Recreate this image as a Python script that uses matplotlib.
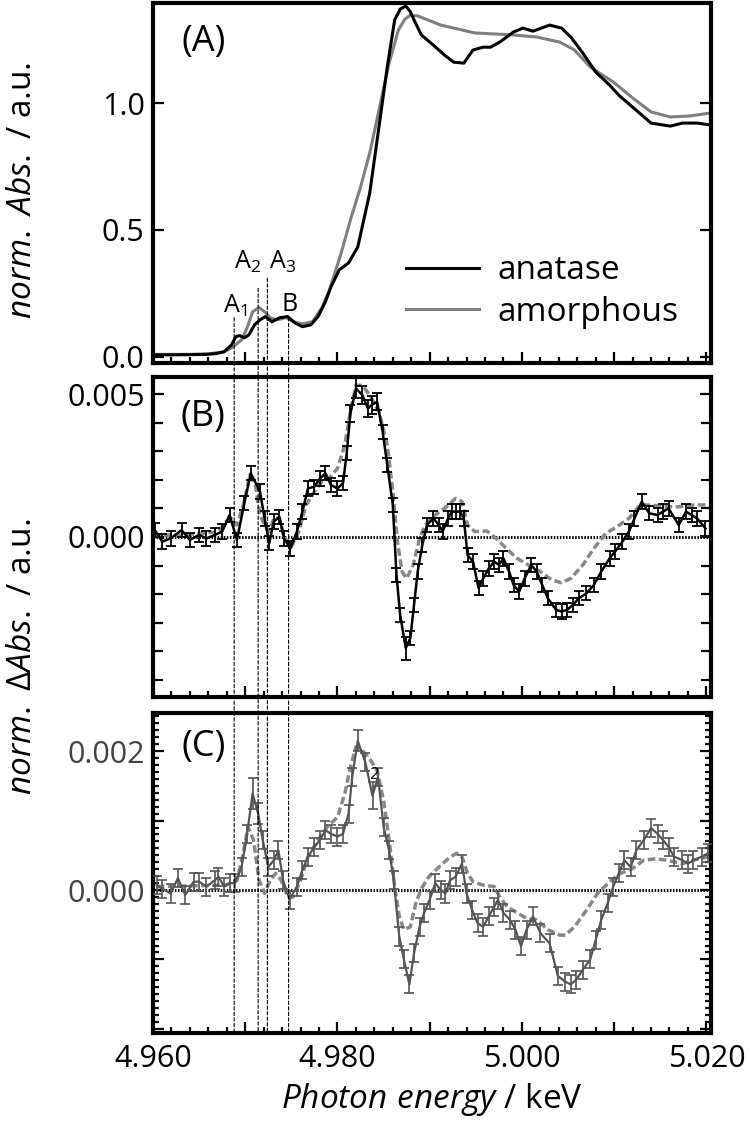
import matplotlib
matplotlib.use("Agg")
import matplotlib.pyplot as plt
from matplotlib.ticker import MultipleLocator, FixedLocator, FuncFormatter
from matplotlib.patches import ConnectionPatch
import numpy as np

plt.rcParams['font.family'] = ['Open Sans', 'DejaVu Sans']
plt.rcParams['mathtext.fontset'] = 'custom'
plt.rcParams['mathtext.rm'] = 'Open Sans'
plt.rcParams['mathtext.it'] = 'Open Sans:italic'

# ---- panel A: normalized XANES ----
e_anatase = [4.9600, 4.9620, 4.9640, 4.9658, 4.9668, 4.9677, 4.9685, 4.9690, 4.9694,
             4.9699, 4.9704, 4.9710, 4.9716, 4.9722, 4.9729, 4.9737, 4.9746, 4.9754,
             4.9762, 4.9771, 4.9779, 4.9787, 4.9793, 4.9802, 4.9812, 4.9822, 4.9835,
             4.9845, 4.9854, 4.9862, 4.9868, 4.9874, 4.9879, 4.9883, 4.9891, 4.9904,
             4.9916, 4.9926, 4.9937, 4.9947, 4.9958, 4.9966, 4.9976, 4.9991, 5.0001,
             5.0012, 5.0030, 5.0043, 5.0053, 5.0066, 5.0080, 5.0095, 5.0105, 5.0120,
             5.0140, 5.0161, 5.0174, 5.0190, 5.0205]
abs_anatase = [0.008, 0.008, 0.009, 0.010, 0.013, 0.020, 0.047, 0.080, 0.084,
               0.075, 0.087, 0.126, 0.146, 0.159, 0.138, 0.154, 0.159, 0.134,
               0.119, 0.126, 0.159, 0.218, 0.276, 0.343, 0.370, 0.433, 0.646,
               0.906, 1.142, 1.327, 1.370, 1.382, 1.360, 1.327, 1.268, 1.228,
               1.189, 1.161, 1.157, 1.209, 1.220, 1.220, 1.240, 1.280, 1.295,
               1.283, 1.307, 1.295, 1.260, 1.197, 1.122, 1.071, 1.031, 0.984,
               0.921, 0.909, 0.921, 0.921, 0.913]

e_amorph = [4.9600, 4.9640, 4.9660, 4.9677, 4.9685, 4.9696, 4.9702, 4.9708, 4.9715,
            4.9721, 4.9727, 4.9735, 4.9744, 4.9752, 4.9762, 4.9773, 4.9783, 4.9791,
            4.9804, 4.9814, 4.9825, 4.9835, 4.9845, 4.9856, 4.9866, 4.9873, 4.9879,
            4.9887, 4.9912, 4.9949, 4.9991, 5.0016, 5.0041, 5.0057, 5.0074, 5.0099,
            5.0120, 5.0140, 5.0161, 5.0182, 5.0205]
abs_amorph = [0.010, 0.010, 0.012, 0.020, 0.035, 0.067, 0.114, 0.178, 0.194,
              0.178, 0.154, 0.146, 0.155, 0.139, 0.130, 0.139, 0.193, 0.260,
              0.409, 0.539, 0.669, 0.803, 0.972, 1.157, 1.287, 1.330, 1.346,
              1.343, 1.307, 1.276, 1.268, 1.260, 1.240, 1.209, 1.142, 1.083,
              1.020, 0.965, 0.945, 0.949, 0.961]

# ---- panel B: difference spectrum (x 1e-3) ----
e_b = [4.9602, 4.9610, 4.9619, 4.9631, 4.9640, 4.9650, 4.9658, 4.9667, 4.9675, 4.9683,
       4.9691, 4.9699, 4.9706, 4.9716, 4.9721, 4.9726, 4.9731, 4.9737, 4.9742, 4.9749,
       4.9756, 4.9762, 4.9768, 4.9775, 4.9781, 4.9787, 4.9793, 4.9800, 4.9806, 4.9810,
       4.9814, 4.9820, 4.9827, 4.9833, 4.9837, 4.9843, 4.9849, 4.9854, 4.9860, 4.9864,
       4.9868, 4.9874, 4.9879, 4.9883, 4.9887, 4.9892, 4.9897, 4.9904, 4.9910, 4.9914,
       4.9920, 4.9924, 4.9928, 4.9933, 4.9937, 4.9941, 4.9947, 4.9953, 4.9958, 4.9964,
       4.9970, 4.9975, 4.9980, 4.9986, 4.9991, 4.9997, 5.0003, 5.0010, 5.0016, 5.0022,
       5.0028, 5.0037, 5.0043, 5.0049, 5.0055, 5.0062, 5.0070, 5.0078, 5.0086, 5.0095,
       5.0101, 5.0109, 5.0116, 5.0122, 5.0130, 5.0138, 5.0147, 5.0153, 5.0159, 5.0170,
       5.0178, 5.0184, 5.0190, 5.0199]
d_b = [0.24, -0.16, -0.05, 0.24, -0.10, 0.07, -0.05, 0.07, 0.19, 0.77,
       -0.10, 1.18, 2.23, 1.59, 0.65, -0.22, 0.54, 0.71, -0.05, -0.40,
       0.19, 0.89, 1.70, 1.76, 2.05, 2.23, 1.82, 1.70, 1.88, 2.93,
       4.32, 5.20, 4.97, 4.50, 4.62, 4.73, 3.68, 2.52, 1.12, -1.33,
       -2.73, -3.89, -3.54, -2.38, -1.21, -0.28, 0.42, 0.65, 0.42, 0.19,
       0.65, 0.89, 0.89, 0.89, 0.65, -0.63, -0.86, -1.79, -1.45, -1.10,
       -0.86, -0.98, -0.75, -1.21, -1.68, -1.91, -1.45, -0.98, -1.21, -1.68,
       -2.14, -2.55, -2.61, -2.55, -2.38, -2.14, -1.97, -1.68, -1.21, -0.75,
       -0.51, -0.16, 0.19, 0.65, 1.24, 0.83, 0.77, 0.89, 1.00, 0.42,
       0.89, 0.77, 0.65, 0.30]
err_b = [0.25] * 30 + [0.3, 0.35, 0.3, 0.3, 0.3, 0.3] + [0.25] * 5 + [0.4] + [0.25] * 52

e_b_fit = [4.9600, 4.9637, 4.9671, 4.9679, 4.9685, 4.9691, 4.9698, 4.9705, 4.9711, 4.9716,
           4.9721, 4.9726, 4.9731, 4.9737, 4.9743, 4.9750, 4.9758, 4.9766, 4.9775, 4.9783,
           4.9791, 4.9800, 4.9808, 4.9814, 4.9820, 4.9827, 4.9835, 4.9845, 4.9854, 4.9860,
           4.9865, 4.9870, 4.9875, 4.9882, 4.9889, 4.9895, 4.9906, 4.9916, 4.9928, 4.9935,
           4.9941, 4.9949, 4.9962, 4.9972, 4.9983, 4.9995, 5.0007, 5.0020, 5.0032, 5.0043,
           5.0053, 5.0066, 5.0078, 5.0091, 5.0103, 5.0116, 5.0128, 5.0141, 5.0153, 5.0170,
           5.0186, 5.0201]
d_b_fit = [0.07, 0.07, 0.19, 0.54, 0.65, 0.42, 1.12, 2.17, 1.82, 0.77,
           0.42, 0.19, 0.65, 0.65, -0.05, -0.34, 0.19, 1.12, 1.59, 1.93,
           2.05, 2.40, 3.22, 4.38, 5.31, 5.31, 4.97, 4.38, 3.22, 1.59,
           -0.16, -1.21, -1.45, -0.98, -0.05, 0.42, 0.77, 1.00, 1.35, 1.24,
           0.42, 0.19, 0.21, -0.05, -0.40, -0.75, -0.98, -1.21, -1.50, -1.60,
           -1.45, -0.98, -0.40, 0.13, 0.36, 0.65, 1.12, 1.12, 1.06, 1.06,
           1.12, 1.12]

# ---- panel C: difference spectrum (x 1e-3) ----
e_c = [4.9604, 4.9610, 4.9619, 4.9627, 4.9635, 4.9644, 4.9650, 4.9658, 4.9667, 4.9671,
       4.9677, 4.9683, 4.9689, 4.9696, 4.9702, 4.9708, 4.9714, 4.9719, 4.9725, 4.9731,
       4.9736, 4.9741, 4.9748, 4.9756, 4.9762, 4.9768, 4.9775, 4.9781, 4.9787, 4.9793,
       4.9800, 4.9806, 4.9812, 4.9816, 4.9822, 4.9830, 4.9838, 4.9844, 4.9850, 4.9856,
       4.9861, 4.9867, 4.9872, 4.9878, 4.9883, 4.9889, 4.9894, 4.9900, 4.9906, 4.9912,
       4.9917, 4.9922, 4.9928, 4.9935, 4.9940, 4.9946, 4.9952, 4.9958, 4.9964, 4.9970,
       4.9974, 4.9980, 4.9987, 4.9993, 4.9999, 5.0005, 5.0012, 5.0020, 5.0030, 5.0039,
       5.0047, 5.0053, 5.0059, 5.0066, 5.0074, 5.0080, 5.0086, 5.0093, 5.0099, 5.0105,
       5.0111, 5.0118, 5.0124, 5.0132, 5.0140, 5.0147, 5.0153, 5.0159, 5.0165, 5.0174,
       5.0180, 5.0186, 5.0195, 5.0202]
d_c = [0.07, 0.02, -0.05, 0.17, -0.07, 0.12, 0.12, 0.05, 0.14, 0.19,
       0.05, 0.10, 0.10, 0.33, 0.81, 1.39, 1.10, 0.72, 0.33, 0.43,
       0.57, 0.14, -0.14, 0.05, 0.29, 0.48, 0.62, 0.72, 0.86, 0.81,
       0.77, 0.81, 1.10, 1.63, 2.15, 1.85, 1.36, 1.63, 0.91, 0.57,
       0.14, -0.67, -1.00, -1.36, -0.91, -0.53, -0.33, -0.14, 0.10, 0.00,
       -0.05, 0.14, 0.19, 0.38, -0.05, -0.29, -0.48, -0.53, -0.38, -0.24,
       -0.14, -0.33, -0.43, -0.57, -0.81, -0.57, -0.38, -0.62, -0.77, -1.24,
       -1.32, -1.36, -1.29, -1.15, -1.00, -0.72, -0.43, -0.19, 0.05, 0.24,
       0.43, 0.33, 0.57, 0.72, 0.89, 0.81, 0.72, 0.62, 0.48, 0.43,
       0.38, 0.43, 0.48, 0.53]
err_c = [0.13] * 15 + [0.22, 0.15] + [0.13] * 17 + [0.15, 0.13, 0.2] + [0.13] * 57

e_c_fit = [4.9604, 4.9679, 4.9691, 4.9698, 4.9703, 4.9709, 4.9715, 4.9721, 4.9727, 4.9733,
           4.9739, 4.9746, 4.9752, 4.9760, 4.9768, 4.9779, 4.9789, 4.9800, 4.9808, 4.9814,
           4.9820, 4.9827, 4.9835, 4.9843, 4.9850, 4.9856, 4.9862, 4.9867, 4.9872, 4.9879,
           4.9885, 4.9891, 4.9899, 4.9910, 4.9920, 4.9929, 4.9935, 4.9941, 4.9947, 4.9958,
           4.9970, 4.9976, 4.9984, 4.9995, 5.0005, 5.0016, 5.0028, 5.0041, 5.0047, 5.0057,
           5.0070, 5.0082, 5.0095, 5.0107, 5.0120, 5.0132, 5.0145, 5.0157, 5.0174, 5.0186,
           5.0202]
d_c_fit = [0.05, 0.07, 0.14, 0.53, 0.91, 0.72, 0.14, -0.05, 0.14, 0.24,
           0.14, -0.10, -0.10, 0.14, 0.48, 0.72, 0.91, 1.05, 1.39, 1.77,
           2.06, 2.01, 1.89, 1.72, 1.29, 0.72, 0.05, -0.38, -0.57, -0.53,
           -0.19, 0.02, 0.19, 0.33, 0.45, 0.53, 0.48, 0.24, 0.12, 0.07,
           0.05, -0.10, -0.24, -0.33, -0.41, -0.43, -0.57, -0.65, -0.65, -0.53,
           -0.29, -0.05, 0.12, 0.24, 0.31, 0.43, 0.45, 0.43, 0.38, 0.43,
           0.48]

# pre-edge features
feat_names = ['A$_1$', 'A$_2$', 'A$_3$', 'B']
feat_energy = [4.9688, 4.9714, 4.9724, 4.9747]
feat_text_x = [4.9689, 4.97025, 4.9740, 4.97486]
feat_text_y = [0.20, 0.374, 0.374, 0.205]
feat_line_top = [0.154, 0.27, 0.31, 0.154]

BLACK = '#000000'
GRAY = '#7f7f7f'
DGRAY = '#555555'

fig = plt.figure(figsize=(7.5, 11.33), dpi=100)
L, W = 153 / 750, 558 / 750
H = 1133.0
axA = fig.add_axes([L, 1 - 363 / H, W, 360 / H])
axB = fig.add_axes([L, 1 - 697 / H, W, 320 / H])
axC = fig.add_axes([L, 1 - 1033 / H, W, 320 / H])

axA.plot(e_anatase, abs_anatase, color=BLACK, lw=2.2, label='anatase', zorder=3)
axA.plot(e_amorph, abs_amorph, color=GRAY, lw=2.2, label='amorphous', zorder=2)
axA.set_ylim(-0.024, 1.394)
axA.yaxis.set_major_locator(FixedLocator([0.0, 0.5, 1.0]))
axA.yaxis.set_major_formatter(FuncFormatter(lambda v, p: f'{v:.1f}'))
axA.legend(loc='center left', bbox_to_anchor=(0.453, 0.199), frameon=False,
           fontsize=24, handlelength=2.2, handletextpad=0.55, labelspacing=0.25,
           borderpad=0, borderaxespad=0)
for name, tx, ty in zip(feat_names, feat_text_x, feat_text_y):
    axA.text(tx, ty, name, fontsize=18, ha='center', va='center')

sc = 1e-3
axB.axhline(0, color=BLACK, lw=2.2, ls=(0, (0.5, 0.5)), zorder=1)
axB.plot(e_b_fit, np.array(d_b_fit) * sc, color='#888888', lw=2.5, ls=(0, (2.2, 1)), zorder=2)
axB.errorbar(e_b, np.array(d_b) * sc, yerr=np.array(err_b) * sc, color=BLACK, lw=1.8,
             elinewidth=1.3, capsize=3.8, capthick=1.3, zorder=3)
axB.set_ylim(-0.0056, 0.0056)
axB.yaxis.set_major_locator(FixedLocator([0.0, 0.005]))
axB.yaxis.set_minor_locator(MultipleLocator(0.001))
axB.yaxis.set_major_formatter(FuncFormatter(lambda v, p: f'{v:.3f}'))

axC.axhline(0, color=BLACK, lw=2.2, ls=(0, (0.5, 0.5)), zorder=1)
axC.plot(e_c_fit, np.array(d_c_fit) * sc, color='#888888', lw=2.5, ls=(0, (2.2, 1)), zorder=2)
axC.errorbar(e_c, np.array(d_c) * sc, yerr=np.array(err_c) * sc, color=DGRAY, lw=1.6,
             elinewidth=1.2, capsize=3.8, capthick=1.2, zorder=3)
axC.text(4.9840, 1.65e-3, '2', fontsize=12, ha='center', va='center', color=BLACK)
axC.set_ylim(-0.00206, 0.00255)
axC.yaxis.set_major_locator(FixedLocator([-0.002, -0.001, 0.0, 0.001, 0.002]))
axC.yaxis.set_minor_locator(MultipleLocator(0.0001))
axC.yaxis.set_major_formatter(
    FuncFormatter(lambda v, p: f'{v:.3f}' if abs(v) < 1e-9 or abs(v - 0.002) < 1e-9 else ''))
axC.tick_params(axis='y', labelcolor='#444444')

for ax in (axA, axB, axC):
    ax.set_xlim(4.960, 5.0205)
    ax.xaxis.set_major_locator(MultipleLocator(0.01))
    ax.xaxis.set_minor_locator(MultipleLocator(0.002))
    ax.xaxis.set_major_formatter(FuncFormatter(
        lambda v, p: f'{v:.3f}' if abs(round(v * 1000) % 20) == 0 else ''))
    for s in ax.spines.values():
        s.set_linewidth(3.0)
    ax.tick_params(which='both', direction='in', left=True, right=True, top=False,
                   bottom=True, width=1.6, labelsize=22)
    ax.tick_params(which='major', length=8)
    ax.tick_params(which='minor', length=4)
    ax.tick_params(axis='y', which='major', pad=6)
axB.tick_params(axis='y', which='minor', length=7)
axA.tick_params(labelbottom=False)
axB.tick_params(labelbottom=False)
axC.tick_params(axis='x', pad=8)

# dashed markers for pre-edge features running through all panels
for e0, ytop in zip(feat_energy, feat_line_top):
    con = ConnectionPatch(xyA=(e0, ytop), coordsA='data', axesA=axA,
                          xyB=(e0, axC.get_ylim()[0]), coordsB='data', axesB=axC,
                          color=BLACK, lw=0.8, ls=(0, (3, 2)), zorder=5)
    fig.add_artist(con)

axA.text(0.09, 0.892, '(A)', transform=axA.transAxes, fontsize=26, ha='center', va='center')
axB.text(0.09, 0.875, '(B)', transform=axB.transAxes, fontsize=26, ha='center', va='center')
axC.text(0.09, 0.894, '(C)', transform=axC.transAxes, fontsize=26, ha='center', va='center')

fig.text(0.030, 1 - 190 / H, r'$\mathit{norm.\ Abs.}$ / a.u.', rotation=90,
         fontsize=24, ha='center', va='center')
fig.text(0.030, 1 - 657 / H, r'$\mathit{norm.\ \Delta Abs.}$ / a.u.', rotation=90,
         fontsize=24, ha='center', va='center')
fig.text((153 + 711) / 2 / 750, 1 - 1100 / H, r'$\mathit{Photon\ energy}$ / keV',
         fontsize=24, ha='center', va='center')

fig.savefig('out.png', dpi=100)
